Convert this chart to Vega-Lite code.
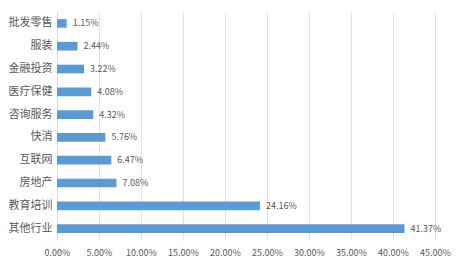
{
  "$schema": "https://vega.github.io/schema/vega-lite/v6.json",
  "width": 378,
  "height": 228,
  "autosize": "none",
  "padding": {"left": 57, "top": 12, "right": 30, "bottom": 27},
  "background": "#ffffff",
  "data": {
    "values": [
      {"industry": "批发零售", "value": 0.0115},
      {"industry": "服装", "value": 0.0244},
      {"industry": "金融投资", "value": 0.0322},
      {"industry": "医疗保健", "value": 0.0408},
      {"industry": "咨询服务", "value": 0.0432},
      {"industry": "快消", "value": 0.0576},
      {"industry": "互联网", "value": 0.0647},
      {"industry": "房地产", "value": 0.0708},
      {"industry": "教育培训", "value": 0.2416},
      {"industry": "其他行业", "value": 0.4137}
    ]
  },
  "config": {
    "view": {"stroke": null},
    "font": "Noto Sans CJK SC"
  },
  "encoding": {
    "y": {
      "field": "industry",
      "type": "nominal",
      "sort": null,
      "scale": {"paddingInner": 0.62, "paddingOuter": 0.31},
      "axis": {
        "title": null,
        "ticks": false,
        "domain": true,
        "domainColor": "#d9d9d9",
        "labelColor": "#595959",
        "labelFontSize": 11,
        "labelPadding": 5,
        "labelFont": "Noto Sans CJK SC"
      }
    },
    "x": {
      "field": "value",
      "type": "quantitative",
      "scale": {"domain": [0, 0.45], "nice": false},
      "axis": {
        "title": null,
        "format": ".2%",
        "values": [0, 0.05, 0.1, 0.15, 0.2, 0.25, 0.3, 0.35, 0.4, 0.45],
        "grid": true,
        "gridColor": "#e3e3e3",
        "ticks": false,
        "domain": false,
        "labelOverlap": false,
        "labelBound": false,
        "labelFlush": false,
        "labelColor": "#595959",
        "labelFontSize": 9,
        "labelPadding": 8,
        "labelFont": "Noto Sans CJK SC"
      }
    }
  },
  "layer": [
    {"mark": {"type": "bar", "color": "#5B9BD5"}},
    {
      "mark": {"type": "text", "align": "left", "dx": 6, "fontSize": 9, "color": "#595959", "font": "Noto Sans CJK SC"},
      "encoding": {"text": {"field": "value", "type": "quantitative", "format": ".2%"}}
    }
  ]
}
